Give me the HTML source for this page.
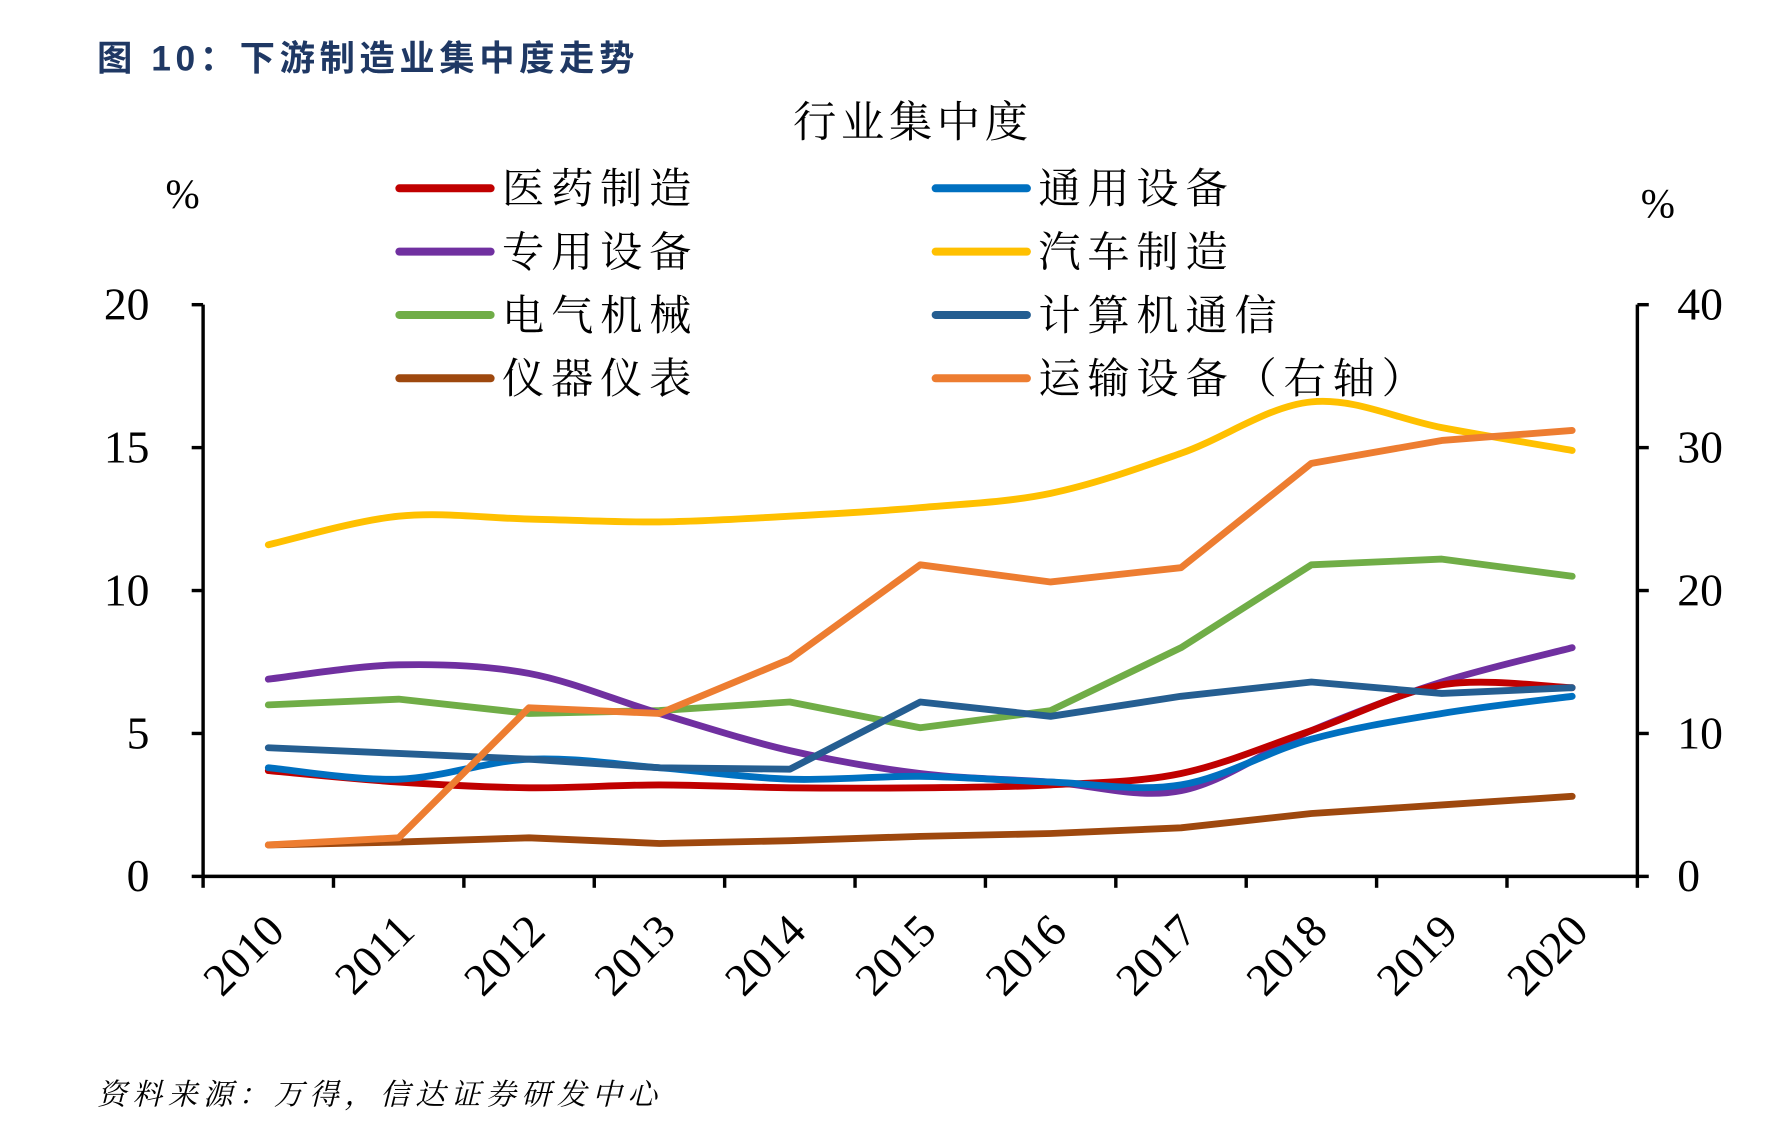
<!DOCTYPE html>
<html><head><meta charset="utf-8"><style>
html,body{margin:0;padding:0;background:#fff;}
svg{display:block}
</style></head><body>
<svg id="c" width="1780" height="1132" viewBox="0 0 1560 992" preserveAspectRatio="none" xmlns="http://www.w3.org/2000/svg">
<text x="85" y="62" font-family="'Liberation Sans','Noto Sans CJK SC',sans-serif" font-weight="bold" font-size="31" letter-spacing="4" fill="#1f3864">图 10：下游制造业集中度走势</text>
<text x="800" y="120" text-anchor="middle" font-family="'Liberation Serif','Noto Serif CJK SC',serif" font-size="38" letter-spacing="4" fill="#000">行业集中度</text>
<text x="160" y="182" text-anchor="middle" font-family="'Liberation Serif',serif" font-size="36">%</text>
<text x="1453" y="190" text-anchor="middle" font-family="'Liberation Serif',serif" font-size="36">%</text>
<g id="axes" stroke="#000" stroke-width="3" fill="none"></g>
<g id="ticklabels" font-family="'Liberation Serif',serif" font-size="40" fill="#000"></g>
<g id="series" fill="none" stroke-width="6" stroke-linecap="round" stroke-linejoin="round"></g>
<g id="legend" font-family="'Liberation Serif','Noto Serif CJK SC',serif" font-size="37" letter-spacing="6" fill="#000"></g>
<text x="85" y="968" font-family="'Liberation Serif','Noto Serif CJK SC',serif" font-style="italic" font-size="26" letter-spacing="5" fill="#000">资料来源：万得，信达证券研发中心</text>
</svg>
<script>
var NS="http://www.w3.org/2000/svg";
function el(p,t,a,txt){var e=document.createElementNS(NS,t);for(var k in a)e.setAttribute(k,a[k]);if(txt!==undefined)e.textContent=txt;document.getElementById(p).appendChild(e);return e;}
var L=178,R=1435,T=267,B=768,W=(R-L)/11;
el("axes","path",{d:"M"+L+" "+T+"V"+B+"H"+R+"V"+T});
for(var i=0;i<=4;i++){var y=B-i*(B-T)/4;
 el("axes","path",{d:"M"+(L-10)+" "+y+"H"+L});
 el("axes","path",{d:"M"+R+" "+y+"H"+(R+10)});
 el("ticklabels","text",{x:L-47,y:y+13,"text-anchor":"end"},String(i*5));
 el("ticklabels","text",{x:R+35,y:y+13},String(i*10));}
for(var i=0;i<=11;i++){var x=L+i*W;el("axes","path",{d:"M"+x+" "+B+"V"+(B+10)});}
for(var i=0;i<11;i++){var cx=L+W*(i+0.5);
 el("ticklabels","text",{x:0,y:0,"text-anchor":"end",transform:"translate("+(cx+16)+",818) rotate(-45)"},String(2010+i));}
var S=[
["#c00000",1,0,[3.7,3.3,3.1,3.2,3.1,3.1,3.2,3.6,5.1,6.7,6.6]],
["#0070c0",1,0,[3.8,3.4,4.1,3.8,3.4,3.5,3.3,3.2,4.8,5.7,6.3]],
["#7030a0",1,0,[6.9,7.4,7.1,5.7,4.4,3.6,3.3,3.0,5.1,6.8,8.0]],
["#ffc000",1,0,[11.6,12.6,12.5,12.4,12.6,12.9,13.4,14.8,16.6,15.7,14.9]],
["#70ad47",0,0,[6.0,6.2,5.7,5.8,6.1,5.2,5.8,8.0,10.9,11.1,10.5]],
["#255e91",0,0,[4.5,4.3,4.1,3.8,3.75,6.1,5.6,6.3,6.8,6.4,6.6]],
["#9e480e",0,0,[1.1,1.2,1.35,1.15,1.25,1.4,1.5,1.7,2.2,2.5,2.8]],
["#ed7d31",0,1,[2.2,2.7,11.8,11.4,15.2,21.8,20.6,21.6,28.9,30.5,31.2]]];
var order=[6,4,3,2,0,1,5,7];
order.forEach(function(k){var s=S[k];var pts=s[3].map(function(v,i){return [L+W*(i+0.5),B-v*(B-T)/(s[2]?40:20)];});
 var d="M"+pts[0][0]+" "+pts[0][1];
 for(var i=0;i<pts.length-1;i++){var p0=pts[Math.max(0,i-1)],p1=pts[i],p2=pts[i+1],p3=pts[Math.min(pts.length-1,i+2)];var t=s[1]?1/6:0;
  d+=" C"+(p1[0]+(p2[0]-p0[0])*t)+" "+(p1[1]+(p2[1]-p0[1])*t)+" "+(p2[0]-(p3[0]-p1[0])*t)+" "+(p2[1]-(p3[1]-p1[1])*t)+" "+p2[0]+" "+p2[1];}
 el("series","path",{d:d,stroke:s[0]});});
var names=["医药制造","通用设备","专用设备","汽车制造","电气机械","计算机通信","仪器仪表","运输设备（右轴）"];
for(var k=0;k<8;k++){var col=k%2,row=Math.floor(k/2);var y=165+row*55.5;var x0=col?820:350;
 el("legend","path",{d:"M"+x0+" "+y+"H"+(x0+80),stroke:S[k][0],"stroke-width":7,"stroke-linecap":"round"});
 el("legend","text",{x:x0+90,y:y+13},names[k]);}
</script>
</body></html>
